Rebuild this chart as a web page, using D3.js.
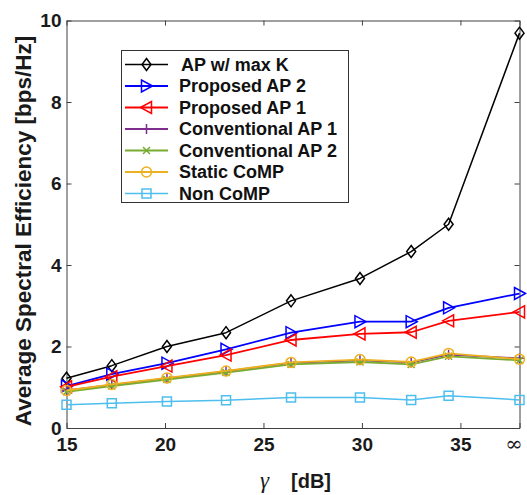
<!DOCTYPE html>
<html>
<head>
<meta charset="utf-8">
<script src="https://cdn.jsdelivr.net/npm/d3@7"></script>
<style>
  html, body { margin: 0; padding: 0; background: #fff; }
  svg { display: block; }
</style>
</head>
<body>
<svg id="chart" width="527" height="495"></svg>
<script>
// γ in dB; the last column is γ = ∞, placed at the right edge of the axis
const gammaDb = [15, 17.3, 20.1, 23.1, 26.4, 29.9, 32.5, 34.4, 38];
const xTickValues = [15, 20, 25, 30, 35, 38];
const xTickLabels = ["15", "20", "25", "30", "35", "∞"];
const yTickValues = [0, 2, 4, 6, 8, 10];

const apMaxK        = [1.22, 1.53, 2.00, 2.34, 3.12, 3.67, 4.33, 5.00, 9.69];
const proposedAp2   = [1.03, 1.32, 1.59, 1.93, 2.34, 2.61, 2.61, 2.95, 3.30];
const proposedAp1   = [1.01, 1.26, 1.52, 1.79, 2.16, 2.31, 2.35, 2.63, 2.85];
const conventionalAp1 = [0.92, 1.06, 1.22, 1.39, 1.60, 1.66, 1.61, 1.80, 1.71];
const conventionalAp2 = [0.89, 1.03, 1.19, 1.36, 1.56, 1.62, 1.56, 1.76, 1.66];
const staticComp    = [0.92, 1.07, 1.23, 1.40, 1.61, 1.68, 1.62, 1.83, 1.69];
const nonComp       = [0.57, 0.61, 0.65, 0.68, 0.75, 0.75, 0.69, 0.79, 0.69];

const seriesNames = ["AP w/ max K", "Proposed AP 2", "Proposed AP 1",
  "Conventional AP 1", "Conventional AP 2", "Static CoMP", "Non CoMP"];

const series = [
  { name: seriesNames[0], values: apMaxK,          color: "#000000", marker: "diamond", width: 1.5 },
  { name: seriesNames[1], values: proposedAp2,     color: "#0000ff", marker: "triRight", width: 1.8 },
  { name: seriesNames[2], values: proposedAp1,     color: "#ff0000", marker: "triLeft", width: 1.8 },
  { name: seriesNames[3], values: conventionalAp1, color: "#7e2f8e", marker: "plus", width: 1.8 },
  { name: seriesNames[4], values: conventionalAp2, color: "#77ac30", marker: "cross", width: 1.8 },
  { name: seriesNames[5], values: staticComp,      color: "#edb120", marker: "circle", width: 1.8 },
  { name: seriesNames[6], values: nonComp,         color: "#4dbeee", marker: "square", width: 1.5 }
];

const svg = d3.select("#chart");
const margin = { left: 66.5, right: 7.5, top: 20.5, bottom: 67 };
const W = 527, H = 495;
const x = d3.scaleLinear().domain([15, 38]).range([margin.left, W - margin.right]);
const y = d3.scaleLinear().domain([0, 10]).range([H - margin.bottom, margin.top]);

const frameColor = "#404040";
const font = "Arial, 'Liberation Sans', sans-serif";

// marker path generators, centred at 0,0
function markerPath(type) {
  switch (type) {
    case "diamond": return "M0,-6L4.5,0L0,6L-4.5,0Z";
    case "triRight": return "M6,0L-5,-6L-5,6Z";
    case "triLeft": return "M-6,0L5,-6L5,6Z";
    case "plus": return "M-5,0L5,0M0,-5L0,5";
    case "cross": return "M-3.5,-3.5L3.5,3.5M-3.5,3.5L3.5,-3.5";
    case "circle": return "M5,0A5,5 0 1,1 -5,0A5,5 0 1,1 5,0Z";
    case "square": return "M-4.5,-4.5L4.5,-4.5L4.5,4.5L-4.5,4.5Z";
  }
}

// axes: bottom and left with inward ticks, mirrored on top and right
const xAxis = d3.axisBottom(x).tickValues(xTickValues)
  .tickFormat((d, i) => xTickLabels[i]).tickSizeInner(-5).tickSizeOuter(0).tickPadding(10);
const yAxis = d3.axisLeft(y).tickValues(yTickValues)
  .tickFormat(d3.format("d")).tickSizeInner(-5).tickSizeOuter(0).tickPadding(5);

const gx = svg.append("g").attr("transform", `translate(0,${y(0)})`).call(xAxis);
const gy = svg.append("g").attr("transform", `translate(${x(15)},0)`).call(yAxis);
const gxTop = svg.append("g").attr("transform", `translate(0,${y(10)})`)
  .call(d3.axisTop(x).tickValues(xTickValues).tickFormat("").tickSizeInner(-5).tickSizeOuter(0));
const gyRight = svg.append("g").attr("transform", `translate(${x(38)},0)`)
  .call(d3.axisRight(y).tickValues(yTickValues).tickFormat("").tickSizeInner(-5).tickSizeOuter(0));

[gx, gy, gxTop, gyRight].forEach(g => {
  g.select(".domain").attr("stroke", frameColor).attr("stroke-width", 1);
  g.selectAll(".tick line").attr("stroke", frameColor);
});
[gx, gy].forEach(g => {
  g.selectAll(".tick text")
    .attr("font-family", font).attr("font-size", 19).attr("font-weight", "bold").attr("fill", "#1a1a1a");
});
// the ∞ label is drawn in a light serif style, nudged inside the page edge
gx.selectAll(".tick text").filter((d) => d === 38)
  .attr("font-family", "'DejaVu Serif', 'Liberation Serif', serif")
  .attr("font-weight", "normal").attr("font-size", 21)
  .attr("dx", -6).attr("dy", "0.62em");

// series lines and markers
const line = d3.line().x((d, i) => x(gammaDb[i])).y(d => y(d));
const plot = svg.append("g");
series.forEach(s => {
  plot.append("path").datum(s.values)
    .attr("d", line).attr("fill", "none")
    .attr("stroke", s.color).attr("stroke-width", s.width).attr("stroke-linejoin", "round");
  plot.selectAll(null).data(s.values).enter().append("path")
    .attr("transform", (d, i) => `translate(${x(gammaDb[i])},${y(d)})`)
    .attr("d", markerPath(s.marker))
    .attr("fill", "none").attr("stroke", s.color).attr("stroke-width", 1.5);
});

// legend
const leg = svg.append("g");
leg.append("rect").attr("x", 121.5).attr("y", 50.5).attr("width", 227).attr("height", 152)
  .attr("fill", "#fff").attr("stroke", "#333").attr("stroke-width", 1);
series.forEach((s, i) => {
  const cy = 64.5 + i * 21.5;
  leg.append("line").attr("x1", 125).attr("x2", 168).attr("y1", cy).attr("y2", cy)
    .attr("stroke", s.color).attr("stroke-width", s.width);
  leg.append("path").attr("transform", `translate(146.5,${cy})`)
    .attr("d", markerPath(s.marker)).attr("fill", "none")
    .attr("stroke", s.color).attr("stroke-width", 1.5);
  leg.append("text").attr("x", i === 0 ? 181 : 179).attr("y", cy).attr("dy", "0.36em")
    .attr("font-family", font).attr("font-size", 18).attr("font-weight", "bold")
    .attr("fill", "#111").text(s.name);
});

// axis titles
svg.append("text")
  .attr("transform", `translate(31,231) rotate(-90)`)
  .attr("text-anchor", "middle")
  .attr("font-family", font).attr("font-size", 22.5).attr("font-weight", "bold")
  .attr("fill", "#1a1a1a")
  .text("Average Spectral Efficiency [bps/Hz]");

const xt = svg.append("text").attr("y", 488).attr("font-family", font).attr("fill", "#1a1a1a");
xt.append("tspan").attr("x", 260)
  .attr("font-family", "'Liberation Serif', 'DejaVu Serif', serif").attr("font-style", "italic")
  .attr("font-size", 23).text("γ");
xt.append("tspan").attr("x", 291).attr("font-size", 20).attr("font-weight", "bold").text("[dB]");
</script>
</body>
</html>
